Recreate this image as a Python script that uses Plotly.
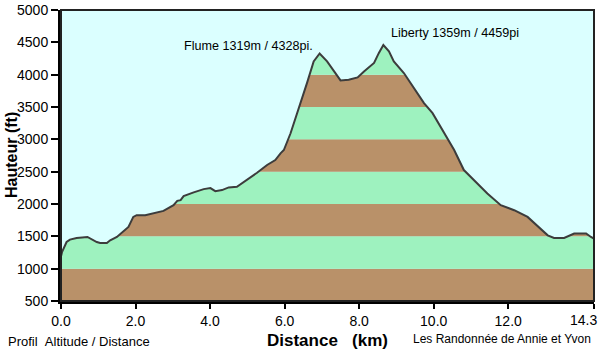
import plotly.graph_objects as go

# Profile data: distance (km) and altitude (ft)
distance_km = [0.0, 0.03, 0.15, 0.24, 0.42, 0.60, 0.71, 0.96, 1.05, 1.23, 1.32, 1.50, 1.63, 1.81,
               1.94, 2.03, 2.26, 2.57, 2.71, 2.75, 3.02, 3.12, 3.21, 3.29, 3.56, 3.83, 4.01,
               4.14, 4.32, 4.50, 4.72, 4.99, 5.26, 5.53, 5.75, 5.89, 5.98, 6.16, 6.34, 6.47,
               6.60, 6.78, 6.94, 7.14, 7.27, 7.50, 7.72, 7.96, 8.13, 8.40, 8.53, 8.65, 8.80,
               8.93, 9.20, 9.47, 9.74, 9.97, 10.28, 10.55, 10.81, 11.08, 11.44, 11.80, 12.16,
               12.52, 13.06, 13.23, 13.50, 13.77, 14.09, 14.22, 14.3]
altitude_ft = [1190, 1260, 1412, 1450, 1475, 1490, 1490, 1412, 1397, 1397, 1439, 1490, 1552, 1645,
               1800, 1827, 1827, 1862, 1878, 1893, 1982, 2049, 2060, 2122, 2179, 2230, 2246,
               2199, 2215, 2257, 2266, 2370, 2483, 2603, 2680, 2784, 2835, 3094, 3405, 3611,
               3870, 4206, 4328, 4206, 4103, 3911, 3922, 3957, 4050, 4181, 4336, 4459, 4361,
               4206, 4026, 3793, 3560, 3405, 3094, 2835, 2525, 2370, 2163, 1982, 1904,
               1800, 1516, 1475, 1475, 1543, 1543, 1490, 1465]

y_ticks = [500, 1000, 1500, 2000, 2500, 3000, 3500, 4000, 4500, 5000]
x_ticks = [0, 2, 4, 6, 8, 10, 12, 14.3]
x_tick_labels = ["0.0", "2.0", "4.0", "6.0", "8.0", "10.0", "12.0", "14.3"]

peak_labels = ["Flume 1319m / 4328pi.", "Liberty 1359m / 4459pi"]
peak_label_x = [3.25, 8.79]
peak_label_y = [4449, 4651]

SKY = "#DBFFFF"
GREEN = "#9EF2BF"
BROWN = "#B99169"
FONT = "Liberation Sans, Arial, sans-serif"

x_min, x_max = 0, 14.3
y_min, y_max = 500, 5000

# last tick label is drawn as a right-aligned annotation so it stays inside the page
tick_text = x_tick_labels[:-1] + [""]

fig = go.Figure()

# bands as shapes below traces
shapes = []
for i in range(len(y_ticks) - 1):
    shapes.append(dict(type="rect", xref="x", yref="y", x0=x_min, x1=x_max + 0.01,
                       y0=y_ticks[i], y1=y_ticks[i + 1],
                       fillcolor=BROWN if i % 2 == 0 else GREEN,
                       line=dict(width=0), layer="below"))
# border of plot
shapes.append(dict(type="rect", xref="paper", yref="paper", x0=0, x1=1, y0=0, y1=1,
                   line=dict(color="#222222", width=2), fillcolor="rgba(0,0,0,0)", layer="above"))

# sky above the profile
fig.add_trace(go.Scatter(x=distance_km, y=[y_max] * len(distance_km), mode="lines",
                         line=dict(width=0, color=SKY), hoverinfo="skip", showlegend=False))
fig.add_trace(go.Scatter(x=distance_km, y=altitude_ft, mode="lines", fill="tonexty",
                         fillcolor=SKY, line=dict(color="#3C3C3C", width=2),
                         showlegend=False))

L, R, T, B = 61, 6, 10, 53
W, H = 600, 354
pw, ph = W - L - R, H - T - B

annotations = []
for t, x, y in zip(peak_labels, peak_label_x, peak_label_y):
    annotations.append(dict(text=t, x=x, y=y, xref="x", yref="y", xanchor="left",
                            yanchor="middle", showarrow=False,
                            font=dict(family=FONT, size=12.6, color="black")))
annotations.append(dict(text=x_tick_labels[-1], x=x_ticks[-1], xref="x", yref="paper",
                        y=1 - (320 - T) / ph, xanchor="right", yanchor="middle", xshift=5,
                        showarrow=False, font=dict(family=FONT, size=14, color="black")))
n_fixed = len(annotations)
annotations += [
    dict(text="Profil\u00a0\u00a0Altitude / Distance", x=6, y=341,
         showarrow=False, xanchor="left", yanchor="middle",
         font=dict(family=FONT, size=13, color="black")),
    dict(text="Les Randonnée de Annie et Yvon", x=593, y=339, showarrow=False,
         xanchor="right", yanchor="middle", font=dict(family=FONT, size=12, color="black")),
    dict(text="<b>Distance\u00a0\u00a0\u00a0(km)</b>", x=327, y=340, showarrow=False,
         xanchor="center", yanchor="middle", font=dict(family=FONT, size=17, color="black")),
    dict(text="<b>Hauteur (ft)</b>", x=11, y=155, showarrow=False, textangle=-90,
         xanchor="center", yanchor="middle", font=dict(family=FONT, size=16, color="black")),
]
# convert pixel-placed annotations to paper coords
for a in annotations[n_fixed:]:
    a["xref"] = "paper"
    a["yref"] = "paper"
    a["x"] = (a["x"] - L) / pw
    a["y"] = 1 - (a["y"] - T) / ph

fig.update_layout(
    width=W, height=H,
    margin=dict(l=L, r=R, t=T, b=B, pad=0, autoexpand=False),
    paper_bgcolor="white", plot_bgcolor=SKY,
    shapes=shapes, annotations=annotations,
    xaxis=dict(range=[x_min, x_max + 0.002], tickvals=x_ticks, ticktext=tick_text,
               ticklabeloverflow="allow", automargin=False,
               showgrid=False, zeroline=False, showline=True, linecolor="black", linewidth=3,
               ticks="outside", ticklen=5, tickwidth=2, tickcolor="black",
               tickfont=dict(family=FONT, size=14, color="black")),
    yaxis=dict(range=[y_min, y_max], tickvals=y_ticks, automargin=False,
               showgrid=False, zeroline=False, showline=True, linecolor="black", linewidth=3,
               ticks="outside", ticklen=7, tickwidth=2, tickcolor="black",
               tickfont=dict(family=FONT, size=14, color="black")),
)

fig.write_html("out.html")
